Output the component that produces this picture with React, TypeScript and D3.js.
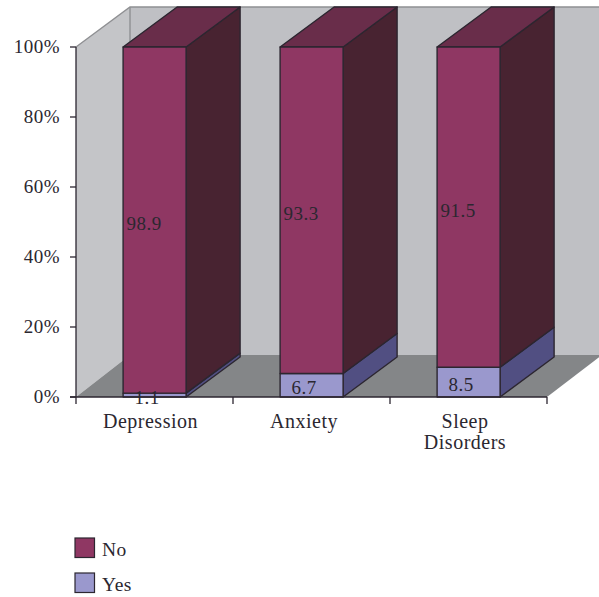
import React from "react";
import * as d3 from "d3";

const categories = [["Depression"], ["Anxiety"], ["Sleep", "Disorders"]];
const yesValues = [1.1, 6.7, 8.5];
const noValues = [98.9, 93.3, 91.5];
const yTicks = [0, 20, 40, 60, 80, 100];
const legendEntries = ["No", "Yes"];

const FONT = "'Liberation Serif', serif";
const TEXT = "#2b2730";
const EDGE = "#2c2630";
const COLORS = {
  No: { front: "#8f3763", side: "#482331", top: "#692d4a" },
  Yes: { front: "#9a98cd", side: "#514f82", top: "#6f6da8" },
};

// Oblique offset of the 3D box depth.
const DX = 54;
const DY = -40;

export default function App() {
  const y = d3.scaleLinear().domain([0, 100]).range([397, 47]);
  const slot = d3.scaleBand<number>().domain([0, 1, 2]).range([76, 547]);
  const barW = 63;
  const barX = (i: number) => slot(i)! + slot.bandwidth() * 0.3;
  const wallBase = 355;
  const pts = (p: number[][]) => p.map((q) => q.join(",")).join(" ");
  const categoryShift = [-4, -7.5, -3.5];

  const box = (i: number, from: number, to: number, c: { front: string; side: string; top: string }, showTop: boolean) => {
    const l = barX(i);
    const r = l + barW;
    const y0 = y(from);
    const y1 = y(to);
    return (
      <g stroke={EDGE} strokeWidth={1.4} strokeLinejoin="round">
        <polygon points={pts([[r, y0], [r + DX, y0 + DY], [r + DX, y1 + DY], [r, y1]])} fill={c.side} />
        {showTop && <polygon points={pts([[l, y1], [l + DX, y1 + DY], [r + DX, y1 + DY], [r, y1]])} fill={c.top} />}
        <rect x={l} y={y1} width={barW} height={y0 - y1} fill={c.front} />
      </g>
    );
  };

  return (
    <svg
      width={599}
      height={597}
      viewBox="0 0 599 597"
      style={{ position: "absolute", left: 0, top: 0, background: "#fff" }}
    >
      {/* Walls and floor */}
      <polygon points={pts([[130, 7], [599, 7], [599, wallBase], [130, wallBase]])} fill="#bfc0c4" />
      <polygon points={pts([[76, 47], [130, 7], [130, wallBase], [76, 397]])} fill="#c4c5c8" />
      <polygon points={pts([[76, 397], [130, wallBase], [602, wallBase], [547, 397]])} fill="#848688" />
      <polyline points={pts([[76, 47], [130, 7], [599, 7]])} fill="none" stroke="#8f9093" strokeWidth={1.4} />
      <line x1={130} x2={130} y1={7} y2={wallBase} stroke="#8f9093" strokeWidth={1.4} />

      {/* Stacked boxes */}
      {categories.map((_, i) => (
        <g key={i}>
          {box(i, 0, yesValues[i], COLORS.Yes, false)}
          {box(i, yesValues[i], 100, COLORS.No, true)}
        </g>
      ))}

      {/* Axes */}
      <g stroke={EDGE} strokeWidth={1.3}>
        <line x1={76} x2={76} y1={y(100)} y2={y(0)} />
        <line x1={70} x2={547} y1={y(0)} y2={y(0)} />
        {yTicks.map((t) => (
          <line key={t} x1={70} x2={76} y1={y(t)} y2={y(t)} />
        ))}
        {d3.range(4).map((i) => {
          const tx = i < 3 ? slot(i)! : 547;
          return <line key={i} x1={tx} x2={tx} y1={397} y2={404} />;
        })}
      </g>
      <g fontFamily={FONT} fontSize={19} letterSpacing={0.5} fill={TEXT}>
        {yTicks.map((t) => (
          <text key={t} x={60} y={y(t) + 5.5} textAnchor="end">
            {t}%
          </text>
        ))}
        {categories.map((lines, i) =>
          lines.map((s, k) => (
            <text key={s} x={slot(i)! + slot.bandwidth() / 2 + categoryShift[i]} y={428 + k * 20.5} textAnchor="middle" fontSize={20}>
              {s}
            </text>
          ))
        )}
        {/* Value labels */}
        {categories.map((_, i) => (
          <g key={i} textAnchor="middle">
            <text x={barX(i) + 21} y={y(noValues[i] / 2 + yesValues[i]) + 10}>
              {noValues[i]}
            </text>
            <text x={barX(i) + 24} y={i === 0 ? 404 : y(yesValues[i] / 2) + 9}>
              {yesValues[i]}
            </text>
          </g>
        ))}
      </g>

      {/* Legend */}
      {legendEntries.map((name, i) => {
        const c = COLORS[name as "No" | "Yes"];
        const ly = 538 + i * 35;
        return (
          <g key={name}>
            <rect x={75} y={ly} width={19.5} height={19.5} fill={c.front} stroke={EDGE} strokeWidth={1.2} />
            <text x={102} y={ly + 18} fontFamily={FONT} fontSize={19.5} letterSpacing={0.5} fill={TEXT}>
              {name}
            </text>
          </g>
        );
      })}
    </svg>
  );
}
